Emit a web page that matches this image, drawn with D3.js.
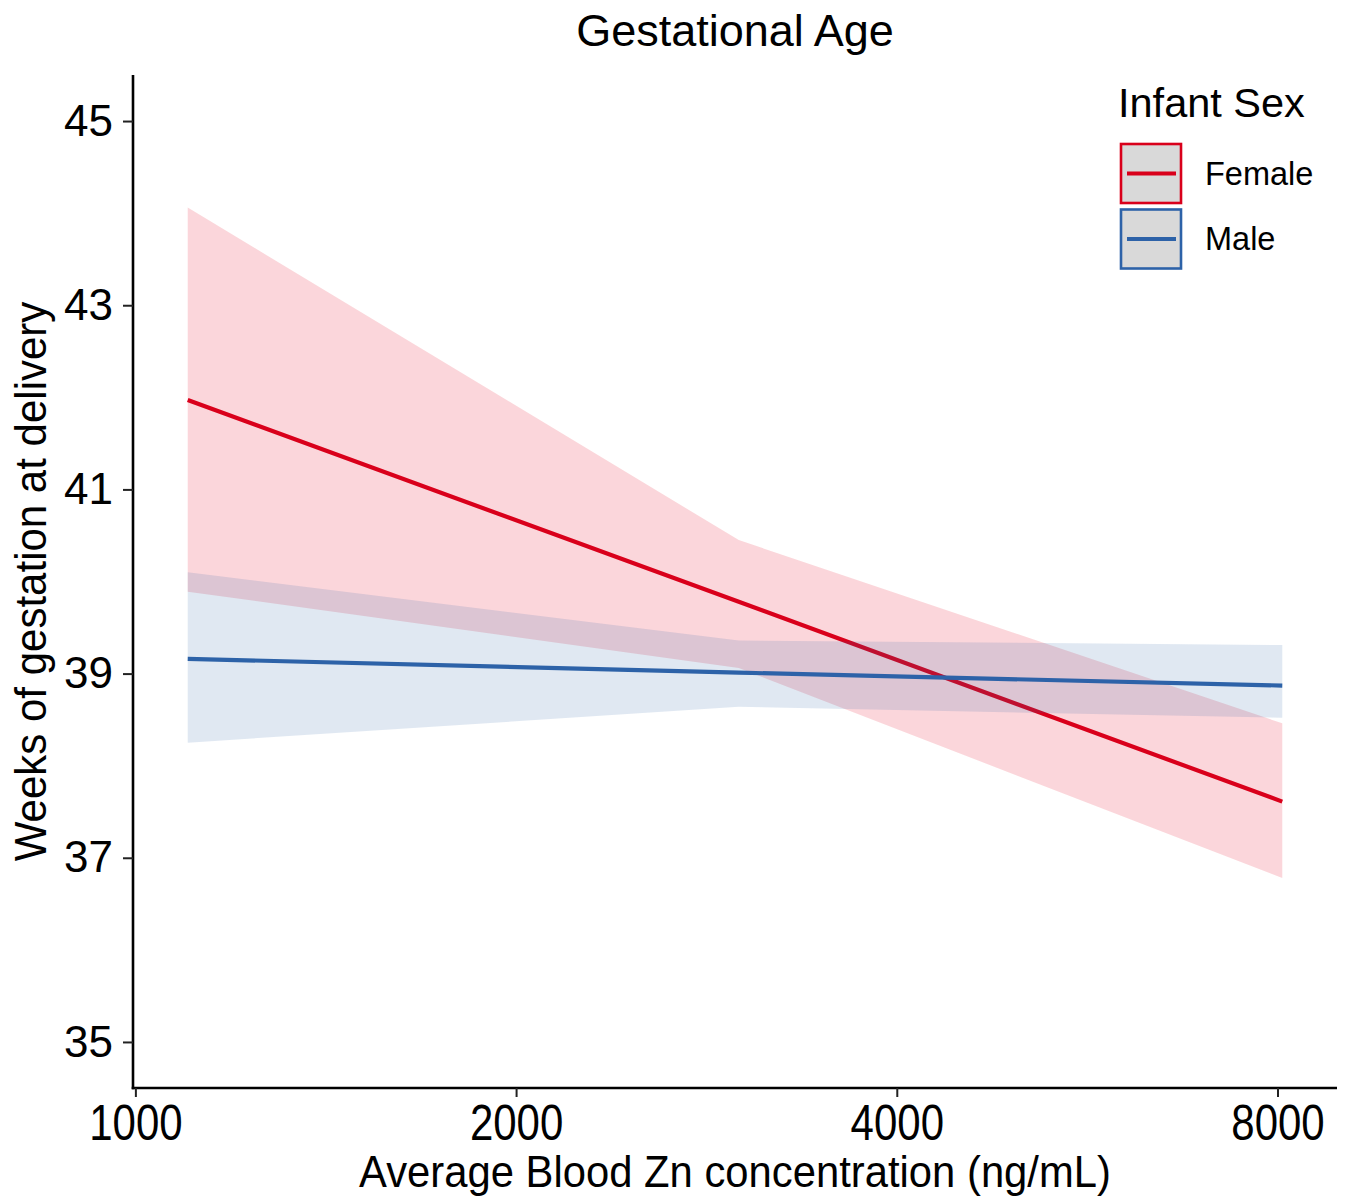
<!DOCTYPE html>
<html><head><meta charset="utf-8">
<script src="https://cdn.jsdelivr.net/npm/d3@7"></script>
<style>
body{margin:0;background:#fff}
svg{display:block}
text{font-family:"Liberation Sans",Arial,Helvetica,sans-serif;fill:#000}
</style>
</head><body>
<svg id="chart" width="1347" height="1201"></svg>
<script>
// ---- data ----
const zinc        = [1100, 3000, 8070];          // ng/mL
const femaleFit   = [41.97, 39.78, 37.61];
const femaleUpper = [44.06, 40.45, 38.46];
const femaleLower = [39.89, 39.06, 36.78];
const maleFit     = [39.16, 39.01, 38.87];
const maleUpper   = [40.10, 39.36, 39.31];
const maleLower   = [38.25, 38.64, 38.52];
const xTicks = [1000, 2000, 4000, 8000];
const yTicks = [35, 37, 39, 41, 43, 45];
const yLimits = [35, 45];
const sexes = ["Female", "Male"];
const sexColors = ["#d9001b", "#2d62a8"];

const title = "Gestational Age";
const xTitle = "Average Blood Zn concentration (ng/mL)";
const yTitle = "Weeks of gestation at delivery";
const legendTitle = "Infant Sex";

// ---- layout ----
const svg = d3.select("#chart");
const panel = {left: 133, right: 1337, top: 75, bottom: 1088};

// ggplot-like 5% expansion on log x, and limits expanded by 5% on y
const lx = d3.extent(zinc).map(Math.log10);
const ex = (lx[1] - lx[0]) * 0.05;
const x = d3.scaleLog().domain([Math.pow(10, lx[0] - ex), Math.pow(10, lx[1] + ex)])
  .range([panel.left, panel.right]);
const ey = (yLimits[1] - yLimits[0]) * 0.05;
const y = d3.scaleLinear().domain([yLimits[0] - ey, yLimits[1] + ey])
  .range([panel.bottom, panel.top]);

const series = [
  {name: sexes[0], color: sexColors[0], fit: femaleFit, lo: femaleLower, hi: femaleUpper, fill: "rgb(232,0,30)", op: 0.16},
  {name: sexes[1], color: sexColors[1], fit: maleFit, lo: maleLower, hi: maleUpper, fill: "rgb(45,98,168)", op: 0.15}
];

const area = d3.area().x(d => x(d.x)).y0(d => y(d.lo)).y1(d => y(d.hi));
const line = d3.line().x(d => x(d.x)).y(d => y(d.v));

series.forEach(s => {
  const pts = zinc.map((z, i) => ({x: z, lo: s.lo[i], hi: s.hi[i], v: s.fit[i]}));
  svg.append("path").attr("d", area(pts)).attr("fill", s.fill).attr("fill-opacity", s.op);
  svg.append("path").attr("d", line(pts)).attr("fill", "none")
    .attr("stroke", s.color).attr("stroke-width", 4.2);
});

// ---- axes ----
const yAxis = svg.append("g").attr("transform", `translate(${panel.left},0)`)
  .call(d3.axisLeft(y).tickValues(yTicks).tickSize(10).tickSizeOuter(0).tickPadding(10).tickFormat(d3.format("d")));
const xAxis = svg.append("g").attr("transform", `translate(0,${panel.bottom})`)
  .call(d3.axisBottom(x).tickValues(xTicks).tickSize(9).tickSizeOuter(0).tickPadding(8).tickFormat(d3.format("d")));

[yAxis, xAxis].forEach(a => {
  a.select(".domain").attr("stroke", "#000").attr("stroke-width", 2.6);
  a.selectAll(".tick line").attr("stroke", "#222").attr("stroke-width", 2);
});
yAxis.selectAll(".tick text").attr("font-size", 44).attr("fill", "#111");
xAxis.selectAll(".tick text").attr("font-size", 50).attr("fill", "#111")
  .attr("transform", "scale(0.84,1)");
// extend axis lines to meet at the corner
yAxis.select(".domain").attr("d", `M0,${panel.top}V${panel.bottom + 1.3}`);
xAxis.select(".domain").attr("d", `M${panel.left - 1.3},0H${panel.right}`);

// ---- titles ----
svg.append("text").attr("x", (panel.left + panel.right) / 2).attr("y", 46)
  .attr("text-anchor", "middle").attr("font-size", 45).text(title);

svg.append("text")
  .attr("transform", `translate(${(panel.left + panel.right) / 2},1187) scale(0.95,1)`)
  .attr("text-anchor", "middle").attr("font-size", 44).text(xTitle);

svg.append("text")
  .attr("transform", `translate(46,${(panel.top + panel.bottom) / 2}) rotate(-90) scale(0.955,1)`)
  .attr("text-anchor", "middle").attr("font-size", 44).text(yTitle);

// ---- legend ----
const lg = svg.append("g");
lg.append("text").attr("x", 1118).attr("y", 117).attr("font-size", 41.5).text(legendTitle);
series.forEach((s, i) => {
  const top = 144 + i * 65.5;
  lg.append("rect").attr("x", 1121).attr("y", top).attr("width", 60).attr("height", 59)
    .attr("fill", "#d9d9d9").attr("stroke", s.color).attr("stroke-width", 2.6);
  lg.append("line").attr("x1", 1127).attr("x2", 1176).attr("y1", top + 29.5).attr("y2", top + 29.5)
    .attr("stroke", s.color).attr("stroke-width", 4.2);
  lg.append("text").attr("x", 1205).attr("y", top + 29.5).attr("dy", "0.35em")
    .attr("font-size", 32.5).text(s.name);
});
</script>
</body></html>
